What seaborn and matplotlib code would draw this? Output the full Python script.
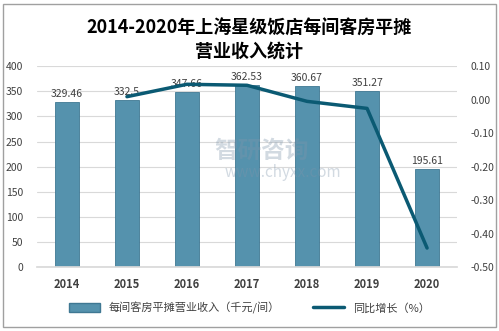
import matplotlib
matplotlib.use("Agg")
import matplotlib.pyplot as plt
import seaborn as sns
import pandas as pd
from matplotlib.patches import Rectangle, Patch
from matplotlib.lines import Line2D

years = ["2014", "2015", "2016", "2017", "2018", "2019", "2020"]
revenue = [329.46, 332.5, 347.66, 362.53, 360.67, 351.27, 195.61]
growth_years = ["2015", "2016", "2017", "2018", "2019", "2020"]
growth = [0.009, 0.046, 0.043, -0.005, -0.026, -0.443]
bar_label = "每间客房平摊营业收入（千元/间）"
line_label = "同比增长（%）"
title = "2014-2020年上海星级饭店每间客房平摊\n营业收入统计"

sns.set_theme(style="white")
plt.rcParams['font.family'] = ['Noto Sans CJK SC', 'DejaVu Sans']

fig = plt.figure(figsize=(4.99, 3.31), dpi=100)
ax = fig.add_axes([0.074, 0.193, 0.842, 0.607])

bar_color = "#5592ad"
df = pd.DataFrame({"year": years, "rev": revenue})
sns.barplot(data=df, x="year", y="rev", ax=ax, color=bar_color, width=0.4,
            saturation=1, edgecolor="#3f7893", linewidth=0.6)
for i, v in enumerate(revenue):
    ax.text(i, v + 6, f"{v:g}", ha="center", va="bottom", fontsize=7.5, color="#404040")

ax.set_ylim(0, 400)
ax.set_yticks(range(0, 401, 50))
ax.set_xlim(-0.5, 6.5)
ax.set_xlabel("")
ax.set_ylabel("")
ax.yaxis.grid(True, color="#d9d9d9", linewidth=0.8)
ax.set_axisbelow(True)
for s in ax.spines.values():
    s.set_visible(False)
ax.spines["bottom"].set_visible(True)
ax.spines["bottom"].set_color("#d9d9d9")
ax.tick_params(axis="y", labelsize=7.5, colors="#404040", length=0, pad=10)
ax.tick_params(axis="x", labelsize=8, colors="#404040", length=0, pad=8)
for lab in ax.get_xticklabels():
    lab.set_fontweight("bold")

ax2 = ax.twinx()
xpos = [years.index(y) for y in growth_years]
gdf = pd.DataFrame({"x": xpos, "g": growth})
sns.lineplot(data=gdf, x="x", y="g", ax=ax2, color="#0b5a73", linewidth=2.5)
ticks2 = [0.1, 0.0, -0.1, -0.2, -0.3, -0.4, -0.5]
ax2.set_ylim(-0.5, 0.1)
ax2.set_yticks(ticks2)
ax2.set_yticklabels([f"{t:.2f}" for t in ticks2])
ax2.set_ylabel("")
ax2.set_xlabel("")
for s in ax2.spines.values():
    s.set_visible(False)
ax2.tick_params(axis="y", labelsize=7.5, colors="#404040", length=0, pad=10)
ax2.set_xlim(-0.5, 6.5)

# watermark
fig.text(0.43, 0.545, "智研咨询", ha="left", va="center", fontsize=17,
         color="#7f95ab", alpha=0.35, fontweight="bold")
fig.text(0.45, 0.478, "www.chyxx.com", ha="left", va="center", fontsize=11,
         color="#7f95ab", alpha=0.35)

fig.text(0.5, 0.88, title, ha="center", va="center", fontsize=13,
         fontweight="bold", color="black", linespacing=1.3)

handles = [Patch(facecolor=bar_color, edgecolor="#3f7893", label=bar_label),
           Line2D([0], [0], color="#0b5a73", linewidth=2.5, label=line_label)]
fig.legend(handles=handles, loc="center", bbox_to_anchor=(0.5, 0.07), ncol=2,
           frameon=False, fontsize=8, handlelength=2.8, handleheight=0.8,
           columnspacing=3, labelcolor="#404040")

fig.patches.append(Rectangle((0.006, 0.012), 0.988, 0.976, transform=fig.transFigure,
                             fill=False, edgecolor="#a0a0a0", linewidth=1))

fig.savefig("out.png", dpi=100)
